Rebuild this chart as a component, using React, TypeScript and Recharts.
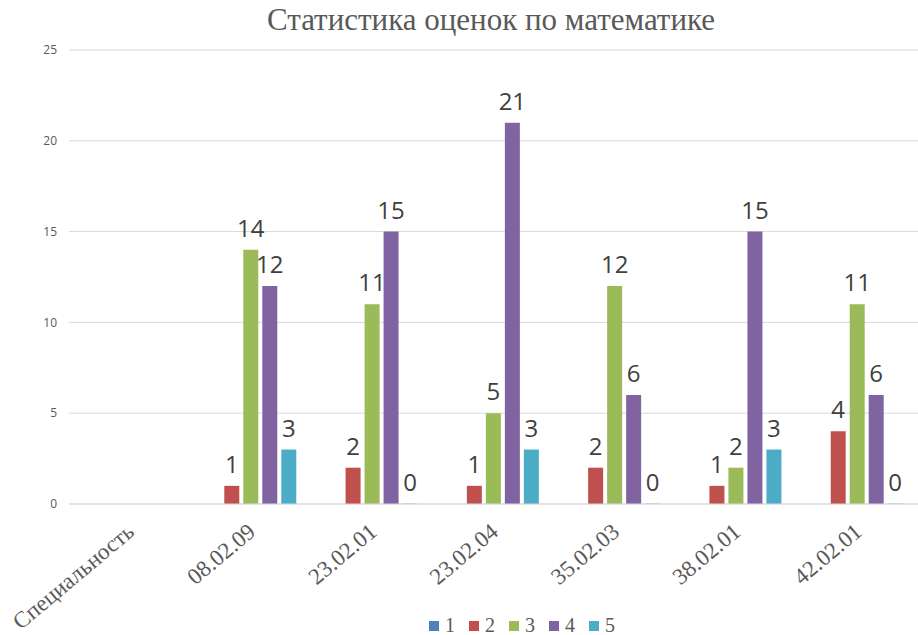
import React from 'react';
import { BarChart, Bar, XAxis, YAxis, CartesianGrid, Legend, LabelList } from 'recharts';

const categories = ['Специальность', '08.02.09', '23.02.01', '23.02.04', '35.02.03', '38.02.01', '42.02.01'];
const grade1: (number | null)[] = [null, null, null, null, null, null, null];
const grade2: (number | null)[] = [null, 1, 2, 1, 2, 1, 4];
const grade3: (number | null)[] = [null, 14, 11, 5, 12, 2, 11];
const grade4: (number | null)[] = [null, 12, 15, 21, 6, 15, 6];
const grade5: (number | null)[] = [null, 3, 0, 3, 0, 3, 0];
const yTicks = [0, 5, 10, 15, 20, 25];

const SERIES = [
  { key: 'g1', name: '1', color: '#4F81BD' },
  { key: 'g2', name: '2', color: '#C0504D' },
  { key: 'g3', name: '3', color: '#9BBB59' },
  { key: 'g4', name: '4', color: '#8064A2' },
  { key: 'g5', name: '5', color: '#4BACC6' },
];

const data = categories.map((name, i) => ({
  name,
  g1: grade1[i],
  g2: grade2[i],
  g3: grade3[i],
  g4: grade4[i],
  g5: grade5[i],
}));

const labelFormatter = (v: any) => (v === null || v === undefined ? '' : v);

// zero bars get a hairline height so their "0" label is still drawn
const minSize = (v: any) => (v === 0 ? 0.3 : 0);

const XTick = (props: any) => {
  const { x, y, payload } = props;
  const ax = x + 6;
  const ay = y + 22;
  return (
    <text
      x={ax}
      y={ay}
      transform={`rotate(-40, ${ax}, ${ay})`}
      textAnchor="end"
      fontFamily="'Liberation Serif', serif"
      fontSize={23}
      fill="#595959"
    >
      {payload.value}
    </text>
  );
};

const LegendContent = () => (
  <div style={{ display: 'flex', justifyContent: 'center', paddingLeft: 140, paddingTop: 9 }}>
    {SERIES.map(s => (
      <div key={s.key} style={{ display: 'flex', alignItems: 'center', marginRight: 14 }}>
        <span style={{ display: 'inline-block', width: 10, height: 10, background: s.color, marginRight: 6 }} />
        <span style={{ fontFamily: "'Liberation Serif', serif", fontSize: 20, color: '#595959' }}>{s.name}</span>
      </div>
    ))}
  </div>
);

const App: React.FC = () => {
  return (
    <div style={{ position: 'absolute', left: 0, top: 0, width: 918, height: 635, background: '#fff', overflow: 'hidden' }}>
      <div
        style={{
          position: 'absolute',
          top: 2,
          left: 32,
          width: 918,
          textAlign: 'center',
          fontFamily: "'Liberation Serif', serif",
          fontSize: 31,
          color: '#595959',
        }}
      >
        Статистика оценок по математике
      </div>
      <BarChart
        width={918}
        height={635}
        data={data}
        margin={{ top: 50, right: 0, left: 0, bottom: 0 }}
        barCategoryGap="12%"
        barGap={4}
      >
        <CartesianGrid vertical={false} stroke="#D9D9D9" />
        <XAxis
          dataKey="name"
          axisLine={{ stroke: '#D9D9D9' }}
          tickLine={false}
          interval={0}
          height={101}
          tick={<XTick />}
        />
        <YAxis
          domain={[0, 25]}
          ticks={yTicks}
          width={69}
          axisLine={false}
          tickLine={false}
          tick={{ fontSize: 12, fill: '#595959', fontFamily: "'Open Sans', sans-serif" }}
          tickMargin={6}
        />
        <Legend verticalAlign="bottom" height={30} content={<LegendContent />} />
        {SERIES.map(s => (
          <Bar
            key={s.key}
            dataKey={s.key}
            name={s.name}
            fill={s.color}
            barSize={15}
            minPointSize={minSize}
            isAnimationActive={false}
          >
            {s.key !== 'g1' && (
              <LabelList
                dataKey={s.key}
                position="top"
                offset={13}
                formatter={labelFormatter}
                fill="#404040"
                fontSize={24}
                fontFamily="'Open Sans', sans-serif"
              />
            )}
          </Bar>
        ))}
      </BarChart>
    </div>
  );
};

export default App;
